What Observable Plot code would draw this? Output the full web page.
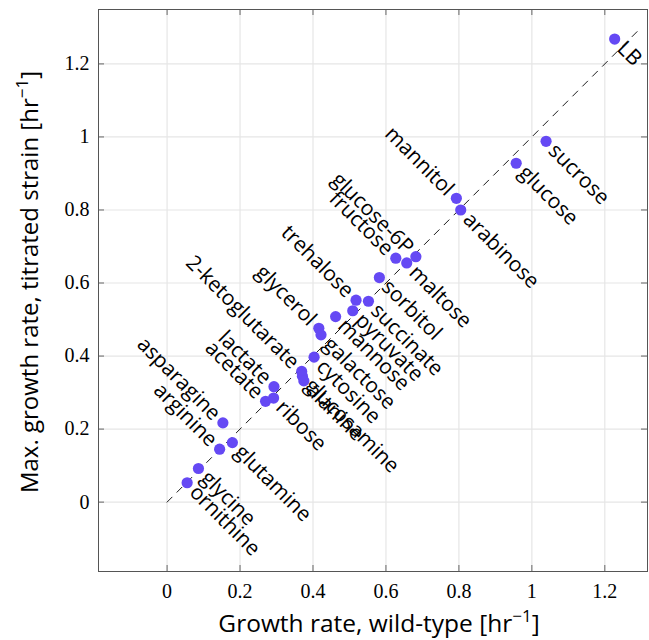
<!DOCTYPE html>
<html><head><meta charset="utf-8">
<script src="https://cdn.jsdelivr.net/npm/d3@7"></script>
<script src="https://cdn.jsdelivr.net/npm/@observablehq/plot@0.6"></script>
<style>body{margin:0;background:#fff}</style>
</head><body><div id="chart"></div>
<script>
const names = ["LB","sucrose","glucose","mannitol","arabinose","glucose-6P","maltose","fructose","sorbitol","trehalose","succinate","pyruvate","mannose","glycerol","galactose","cytosine","2-ketoglutarate","glucosamine","alanine","lactate","acetate","ribose","asparagine","glutamine","arginine","glycine","ornithine"];
const wildType = [1.227,1.039,0.957,0.793,0.805,0.682,0.657,0.627,0.582,0.518,0.552,0.509,0.462,0.416,0.422,0.403,0.369,0.371,0.375,0.293,0.270,0.292,0.153,0.179,0.144,0.086,0.055];
const titrated = [1.268,0.988,0.928,0.832,0.800,0.672,0.655,0.668,0.615,0.553,0.550,0.524,0.508,0.476,0.458,0.397,0.358,0.345,0.332,0.316,0.276,0.285,0.217,0.163,0.145,0.092,0.053];
const labelSide = ["r","r","r","l","r","l","r","l","r","l","r","r","r","l","r","r","l","r","r","l","l","r","l","r","l","r","r"];
const xTicks = [0,0.2,0.4,0.6,0.8,1,1.2];
const yTicks = [0,0.2,0.4,0.6,0.8,1,1.2];
const diagonal = [0, 1.3];
const xDomain = [-0.188, 1.317];
const yDomain = [-0.190, 1.349];

const pts = names.map((n,i)=>({name:n, x:wildType[i], y:titrated[i], side:labelSide[i]}));
const diag = diagonal.map(v=>({x:v,y:v}));
const tx = (xDomain[1]-xDomain[0])*6/549;
const ty = (yDomain[1]-yDomain[0])*6/562;
const labelFont = "'Open Sans', sans-serif";
const tickFont = "'Liberation Serif', serif";

const chart = Plot.plot({
  width: 649, height: 640,
  marginLeft: 98, marginRight: 2, marginTop: 9, marginBottom: 69,
  style: {background:"#fff", color:"#000"},
  x: {domain: xDomain, ticks: xTicks},
  y: {domain: yDomain, ticks: yTicks},
  marks: [
    Plot.gridX(xTicks, {stroke:"#e6e6e6", strokeOpacity:1, strokeWidth:1.2}),
    Plot.gridY(yTicks, {stroke:"#e6e6e6", strokeOpacity:1, strokeWidth:1.2}),
    Plot.ruleX(xTicks, {y1: yDomain[0], y2: yDomain[0]+ty, stroke:"#666", strokeWidth:1}),
    Plot.ruleX(xTicks, {y1: yDomain[1], y2: yDomain[1]-ty, stroke:"#666", strokeWidth:1}),
    Plot.ruleY(yTicks, {x1: xDomain[0], x2: xDomain[0]+tx, stroke:"#666", strokeWidth:1}),
    Plot.ruleY(yTicks, {x1: xDomain[1], x2: xDomain[1]-tx, stroke:"#666", strokeWidth:1}),
    Plot.axisX(xTicks, {tickSize:0, tickPadding:12, fontSize:20, fontFamily:tickFont, label:null, tickFormat: d=>String(d)}),
    Plot.axisY(yTicks, {tickSize:0, tickPadding:9, fontSize:20, fontFamily:tickFont, label:null, tickFormat: d=>String(d)}),
    Plot.line(diag, {x:"x", y:"y", stroke:"#000", strokeWidth:0.9, strokeDasharray:"7,7"}),
    Plot.dot(pts, {x:"x", y:"y", r:5.6, fill:"#6549f4", stroke:"none"}),
    Plot.text(pts.filter(d=>d.side==="r"), {x:"x", y:"y", text:"name", rotate:45, textAnchor:"start", dx:6, dy:6, fontSize:21, fontFamily:labelFont, fill:"#000"}),
    Plot.text(pts.filter(d=>d.side==="l"), {x:"x", y:"y", text:"name", rotate:45, textAnchor:"end", dx:-6, dy:-6, fontSize:21, fontFamily:labelFont, fill:"#000"}),
    Plot.frame({stroke:"#555", strokeWidth:1})
  ]
});

const svg = d3.select(chart);
const xl = svg.append("text").attr("x", 379).attr("y", 632).attr("text-anchor","middle")
  .attr("font-family", labelFont).attr("font-size", 24.5).attr("fill","#000");
xl.append("tspan").text("Growth rate, wild-type [hr");
xl.append("tspan").attr("dy",-10).attr("font-size",17).text("\u22121");
xl.append("tspan").attr("dy",10).text("]");
const yl = svg.append("text").attr("transform", `translate(38,282) rotate(-90)`).attr("text-anchor","middle")
  .attr("font-family", labelFont).attr("font-size", 24).attr("fill","#000");
yl.append("tspan").text("Max. growth rate, titrated strain [hr");
yl.append("tspan").attr("dy",-10).attr("font-size",17).text("\u22121");
yl.append("tspan").attr("dy",10).text("]");

document.getElementById("chart").appendChild(chart);
</script>
</body></html>
